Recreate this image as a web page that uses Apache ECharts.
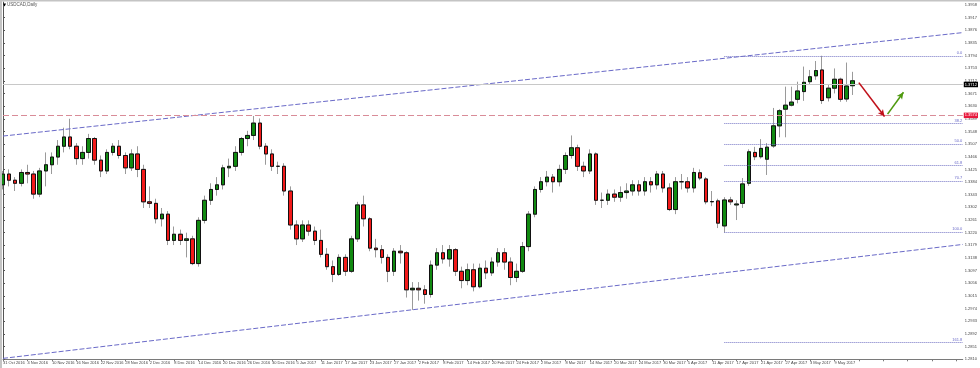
<!DOCTYPE html>
<html><head><meta charset="utf-8">
<script src="https://cdn.jsdelivr.net/npm/echarts@6/dist/echarts.min.js"></script>
<style>html,body{margin:0;padding:0;background:#fff}#c{width:980px;height:368px}</style>
</head><body><div id="c"></div>
<script>
const dates = [
'31 Oct 2016',
'1 Nov 2016','2 Nov 2016','3 Nov 2016','4 Nov 2016','7 Nov 2016','8 Nov 2016','9 Nov 2016','10 Nov 2016','11 Nov 2016','14 Nov 2016','15 Nov 2016','16 Nov 2016','17 Nov 2016','18 Nov 2016','21 Nov 2016','22 Nov 2016','23 Nov 2016','24 Nov 2016','25 Nov 2016','28 Nov 2016','29 Nov 2016','30 Nov 2016',
'1 Dec 2016','2 Dec 2016','5 Dec 2016','6 Dec 2016','7 Dec 2016','8 Dec 2016','9 Dec 2016','12 Dec 2016','13 Dec 2016','14 Dec 2016','15 Dec 2016','16 Dec 2016','19 Dec 2016','20 Dec 2016','21 Dec 2016','22 Dec 2016','23 Dec 2016','26 Dec 2016','27 Dec 2016','28 Dec 2016','29 Dec 2016','30 Dec 2016',
'2 Jan 2017','3 Jan 2017','4 Jan 2017','5 Jan 2017','6 Jan 2017','9 Jan 2017','10 Jan 2017','11 Jan 2017','12 Jan 2017','13 Jan 2017','16 Jan 2017','17 Jan 2017','18 Jan 2017','19 Jan 2017','20 Jan 2017','23 Jan 2017','24 Jan 2017','25 Jan 2017','26 Jan 2017','27 Jan 2017','30 Jan 2017','31 Jan 2017',
'1 Feb 2017','2 Feb 2017','3 Feb 2017','6 Feb 2017','7 Feb 2017','8 Feb 2017','9 Feb 2017','10 Feb 2017','13 Feb 2017','14 Feb 2017','15 Feb 2017','16 Feb 2017','17 Feb 2017','20 Feb 2017','21 Feb 2017','22 Feb 2017','23 Feb 2017','24 Feb 2017','27 Feb 2017','28 Feb 2017',
'1 Mar 2017','2 Mar 2017','3 Mar 2017','6 Mar 2017','7 Mar 2017','8 Mar 2017','9 Mar 2017','10 Mar 2017','13 Mar 2017','14 Mar 2017','15 Mar 2017','16 Mar 2017','17 Mar 2017','20 Mar 2017','21 Mar 2017','22 Mar 2017','23 Mar 2017','24 Mar 2017','27 Mar 2017','28 Mar 2017','29 Mar 2017','30 Mar 2017','31 Mar 2017',
'3 Apr 2017','4 Apr 2017','5 Apr 2017','6 Apr 2017','7 Apr 2017','10 Apr 2017','11 Apr 2017','12 Apr 2017','13 Apr 2017','14 Apr 2017','17 Apr 2017','18 Apr 2017','19 Apr 2017','20 Apr 2017','21 Apr 2017','24 Apr 2017','25 Apr 2017','26 Apr 2017','27 Apr 2017','28 Apr 2017',
'1 May 2017','2 May 2017','3 May 2017','4 May 2017','5 May 2017','8 May 2017','9 May 2017','10 May 2017','11 May 2017','12 May 2017'];

const open = [1.3375,1.3410,1.3390,1.3380,1.3415,1.3410,1.3345,1.3420,1.3440,1.3465,1.3500,1.3530,1.3500,1.3460,1.3480,1.3525,1.3455,1.3420,1.3480,1.3500,1.3470,1.3430,1.3475,1.3425,1.3320,1.3315,1.3265,1.3280,1.3195,1.3215,1.3195,1.3200,1.3120,1.3260,1.3325,1.3360,1.3375,1.3430,1.3435,1.3480,1.3525,1.3535,1.3575,1.3500,1.3475,1.3435,1.3435,1.3355,1.3245,1.3200,1.3245,1.3225,1.3195,1.3150,1.3110,1.3085,1.3140,1.3095,1.3200,1.3310,1.3265,1.3170,1.3165,1.3140,1.3095,1.3160,1.3155,1.3035,1.3040,1.3035,1.3020,1.3115,1.3155,1.3135,1.3165,1.3095,1.3065,1.3100,1.3045,1.3105,1.3090,1.3125,1.3155,1.3125,1.3075,1.3095,1.3175,1.3280,1.3360,1.3385,1.3400,1.3385,1.3425,1.3470,1.3495,1.3435,1.3420,1.3475,1.3325,1.3325,1.3345,1.3335,1.3350,1.3355,1.3375,1.3355,1.3385,1.3375,1.3410,1.3365,1.3295,1.3385,1.3385,1.3365,
1.3414,1.3394,1.3320,1.3323,1.3242,1.3326,1.3310,1.3315,1.3380,1.3480,1.3466,1.3458,1.3501,1.3566,1.3620,1.3633,1.3652,1.3677,1.3709,1.3728,1.3747,1.3657,1.3688,1.3717,1.3653,1.3696];
const high = [1.3420,1.3425,1.3400,1.3425,1.3440,1.3420,1.3430,1.3480,1.3480,1.3520,1.3560,1.3589,1.3510,1.3500,1.3540,1.3530,1.3470,1.3490,1.3510,1.3520,1.3480,1.3490,1.3500,1.3440,1.3370,1.3330,1.3300,1.3290,1.3240,1.3230,1.3220,1.3210,1.3270,1.3340,1.3380,1.3400,1.3440,1.3460,1.3500,1.3530,1.3550,1.3598,1.3590,1.3510,1.3490,1.3450,1.3445,1.3370,1.3260,1.3260,1.3260,1.3240,1.3230,1.3170,1.3130,1.3150,1.3150,1.3210,1.3320,1.3340,1.3270,1.3200,1.3180,1.3150,1.3170,1.3180,1.3160,1.3060,1.3060,1.3050,1.3130,1.3170,1.3180,1.3180,1.3170,1.3110,1.3120,1.3120,1.3120,1.3130,1.3140,1.3170,1.3170,1.3140,1.3120,1.3190,1.3290,1.3370,1.3400,1.3420,1.3410,1.3440,1.3480,1.3535,1.3505,1.3450,1.3490,1.3480,1.3350,1.3360,1.3360,1.3370,1.3380,1.3390,1.3390,1.3400,1.3400,1.3420,1.3420,1.3380,1.3400,1.3410,1.3400,1.3430,
1.3425,1.3400,1.3355,1.3330,1.3335,1.3336,1.3325,1.3397,1.3490,1.3498,1.3523,1.3510,1.3624,1.3620,1.3693,1.3693,1.3709,1.3758,1.3747,1.3776,1.3793,1.3700,1.3752,1.3722,1.3771,1.3741];
const low = [1.3360,1.3370,1.3355,1.3370,1.3380,1.3330,1.3335,1.3370,1.3410,1.3440,1.3480,1.3490,1.3440,1.3440,1.3460,1.3440,1.3400,1.3410,1.3470,1.3460,1.3410,1.3420,1.3400,1.3300,1.3300,1.3250,1.3240,1.3180,1.3180,1.3180,1.3140,1.3115,1.3110,1.3250,1.3310,1.3340,1.3360,1.3400,1.3420,1.3470,1.3500,1.3520,1.3490,1.3440,1.3420,1.3410,1.3340,1.3230,1.3180,1.3190,1.3210,1.3180,1.3140,1.3100,1.3060,1.3080,1.3080,1.3090,1.3190,1.3240,1.3160,1.3140,1.3120,1.3060,1.3080,1.3120,1.3010,1.2970,1.3000,1.2990,1.3010,1.3100,1.3120,1.3110,1.3080,1.3040,1.3050,1.3030,1.3040,1.3070,1.3080,1.3110,1.3100,1.3050,1.3060,1.3090,1.3160,1.3270,1.3350,1.3370,1.3350,1.3370,1.3410,1.3460,1.3420,1.3400,1.3410,1.3310,1.3300,1.3310,1.3320,1.3320,1.3330,1.3340,1.3340,1.3340,1.3350,1.3360,1.3350,1.3290,1.3280,1.3360,1.3350,1.3350,
1.3390,1.3312,1.3306,1.3235,1.3220,1.3310,1.3261,1.3300,1.3372,1.3455,1.3460,1.3407,1.3495,1.3529,1.3529,1.3629,1.3639,1.3647,1.3700,1.3715,1.3637,1.3645,1.3671,1.3644,1.3644,1.3666];
const close = [1.3410,1.3390,1.3380,1.3415,1.3410,1.3345,1.3420,1.3440,1.3465,1.3500,1.3530,1.3500,1.3460,1.3480,1.3525,1.3455,1.3420,1.3480,1.3500,1.3470,1.3430,1.3475,1.3425,1.3320,1.3315,1.3265,1.3280,1.3195,1.3215,1.3195,1.3200,1.3120,1.3260,1.3325,1.3360,1.3375,1.3430,1.3435,1.3480,1.3525,1.3535,1.3575,1.3500,1.3475,1.3435,1.3435,1.3355,1.3245,1.3200,1.3245,1.3225,1.3195,1.3150,1.3110,1.3085,1.3140,1.3095,1.3200,1.3310,1.3265,1.3170,1.3165,1.3140,1.3095,1.3160,1.3155,1.3035,1.3040,1.3035,1.3020,1.3115,1.3155,1.3135,1.3165,1.3095,1.3065,1.3100,1.3045,1.3105,1.3090,1.3125,1.3155,1.3125,1.3075,1.3095,1.3175,1.3280,1.3360,1.3385,1.3400,1.3385,1.3425,1.3470,1.3495,1.3435,1.3420,1.3475,1.3325,1.3325,1.3345,1.3335,1.3350,1.3355,1.3375,1.3355,1.3385,1.3375,1.3410,1.3365,1.3295,1.3385,1.3385,1.3365,1.3415,
1.3397,1.3320,1.3321,1.3251,1.3326,1.3320,1.3313,1.3378,1.3482,1.3466,1.3493,1.3497,1.3566,1.3615,1.3633,1.3643,1.3679,1.3707,1.3725,1.3745,1.3648,1.3688,1.3717,1.3652,1.3695,1.3712];

const yTicks = [1.2810,1.2851,1.2892,1.2933,1.2974,1.3015,1.3056,1.3097,1.3138,1.3179,1.3220,1.3261,1.3302,1.3343,1.3384,1.3425,1.3466,1.3507,1.3548,1.3589,1.3630,1.3671,1.3712,1.3753,1.3794,1.3835,1.3876,1.3917,1.3958];
const lastPrice = 1.3712;
const hLevel = 1.3574;
const fibNames = ['0.0','38.2','50.0','61.8','70.7','100.0','161.8'];
const fibPrices = [1.3793,1.3574,1.3508,1.3439,1.3388,1.3223,1.2866];
const fibStart = 118;
const upperTrend = [[0,1.3533],[157,1.3868]];
const lowerTrend = [[0,1.2813],[157,1.3182]];
const downArrow = [[140,1.3706],[144.2,1.3596]];
const upArrow = [[144.7,1.3604],[147.3,1.3675]];
const emptySlots = 18;

const cats = dates.concat(Array.from({length: emptySlots}, (_, k) => ' '.repeat(k + 1)));
const full = dates.map((d, i) => [open[i], close[i], low[i], high[i]]);
const bodies = dates.map((d, i) => [open[i], close[i], Math.min(open[i], close[i]), Math.max(open[i], close[i])]);
const lastX = cats.length - 1;
const F = 'Liberation Sans';

const chart = echarts.init(document.getElementById('c'), null, {renderer: 'canvas'});
chart.setOption({
  animation: false,
  backgroundColor: '#ffffff',
  grid: {left: 0.5, right: 16.1, top: 2, bottom: 8.7, containLabel: false},
  xAxis: [{
    type: 'category', data: cats, boundaryGap: false,
    axisLine: {lineStyle: {color: '#7a7a7a', width: 1}},
    axisTick: {show: true, interval: 3, length: 2, lineStyle: {color: '#7a7a7a'}},
    axisLabel: {interval: 3, align: 'left', margin: 2, fontSize: 4, fontFamily: F, color: '#444',
      formatter: (v, i) => (i < dates.length ? v : '')},
    splitLine: {show: false}
  }, {
    type: 'value', min: 0, max: lastX, show: false
  }],
  yAxis: {
    type: 'value', position: 'right', min: yTicks[0], max: 1.396711, scale: true,
    axisLine: {show: true, lineStyle: {color: '#555', width: 1}},
    axisTick: {show: true, length: 2, customValues: yTicks, lineStyle: {color: '#555'}},
    axisLabel: {show: true, margin: 2, fontSize: 4, fontFamily: F, color: '#444', customValues: yTicks,
      formatter: v => v.toFixed(4)},
    splitLine: {show: false}
  },
  graphic: [
    {type: 'rect', shape: {x: 0, y: 0, width: 2, height: 368}, style: {fill: '#c4c4c4'}, z: 100},
    {type: 'rect', shape: {x: 0, y: 0, width: 980, height: 1.5}, style: {fill: '#c4c4c4'}, z: 100},
    {type: 'text', left: 3, top: 2.5, style: {text: '\u25BC', fontSize: 4, fill: '#000', fontFamily: 'DejaVu Sans'}, z: 100},
    {type: 'text', left: 7, top: 2.5, style: {text: 'USDCAD,Daily', fontSize: 4.5, fill: '#555', fontFamily: F}, z: 100}
  ],
  series: [
    {
      type: 'line', xAxisIndex: 1, data: [], silent: true,
      markLine: {
        silent: true, symbol: ['none', 'none'], animation: false,
        data: [
          [{coord: upperTrend[0]}, {coord: upperTrend[1]}],
          [{coord: lowerTrend[0]}, {coord: lowerTrend[1]}]
        ],
        lineStyle: {color: '#6a6ac8', width: 1, type: [5, 2]},
        label: {show: false}
      }
    },
    {
      type: 'line', xAxisIndex: 1, data: [], silent: true,
      markLine: {
        silent: true, symbol: ['none', 'none'], animation: false,
        data: fibPrices.map((p, k) => [{coord: [fibStart, p], name: fibNames[k]}, {coord: [lastX, p]}]),
        lineStyle: {color: '#7373c4', width: 1, type: [1, 1]},
        label: {show: true, position: 'insideEndTop', distance: 0.5, formatter: '{b}', fontSize: 4, fontFamily: F, color: '#6a6ac8'}
      }
    },
    {
      type: 'line', xAxisIndex: 1, data: [], silent: true,
      markLine: {
        silent: true, symbol: ['none', 'none'], animation: false,
        data: [
          {yAxis: lastPrice, lineStyle: {color: '#c8c8c8', width: 1, type: 'solid'},
           label: {show: true, position: 'end', distance: 1, formatter: lastPrice.toFixed(4), backgroundColor: '#000', color: '#fff', padding: [1, 1, 0.5, 1], fontSize: 4, fontFamily: F}},
          {yAxis: hLevel, lineStyle: {color: '#d98c98', width: 1, type: [6, 3]},
           label: {show: true, position: 'end', distance: 1, formatter: hLevel.toFixed(4), backgroundColor: '#e8183c', color: '#fff', padding: [1, 1, 0.5, 1], fontSize: 4, fontFamily: F}}
        ]
      }
    },
    {
      type: 'candlestick', name: 'wick', xAxisIndex: 0, data: full, barWidth: 4,
      itemStyle: {color: '#118a11', color0: '#f21a1a', borderColor: '#9a9a9a', borderColor0: '#9a9a9a', borderWidth: 1}
    },
    {
      type: 'candlestick', name: 'body', xAxisIndex: 0, data: bodies, barWidth: 4,
      itemStyle: {color: '#118a11', color0: '#f21a1a', borderColor: '#111', borderColor0: '#111', borderColorDoji: '#111', borderWidth: 1}
    },
    {
      type: 'line', xAxisIndex: 1, data: [], silent: true,
      markLine: {
        silent: true, symbol: ['none', 'arrow'], symbolSize: [5, 7], animation: false,
        data: [
          [{coord: downArrow[0], lineStyle: {color: '#c0101a', width: 1.6, type: 'solid'}}, {coord: downArrow[1]}],
          [{coord: upArrow[0], lineStyle: {color: '#4f9a10', width: 1.6, type: 'solid'}}, {coord: upArrow[1]}]
        ],
        lineStyle: {type: 'solid'},
        label: {show: false}
      }
    }
  ]
});
</script></body></html>
